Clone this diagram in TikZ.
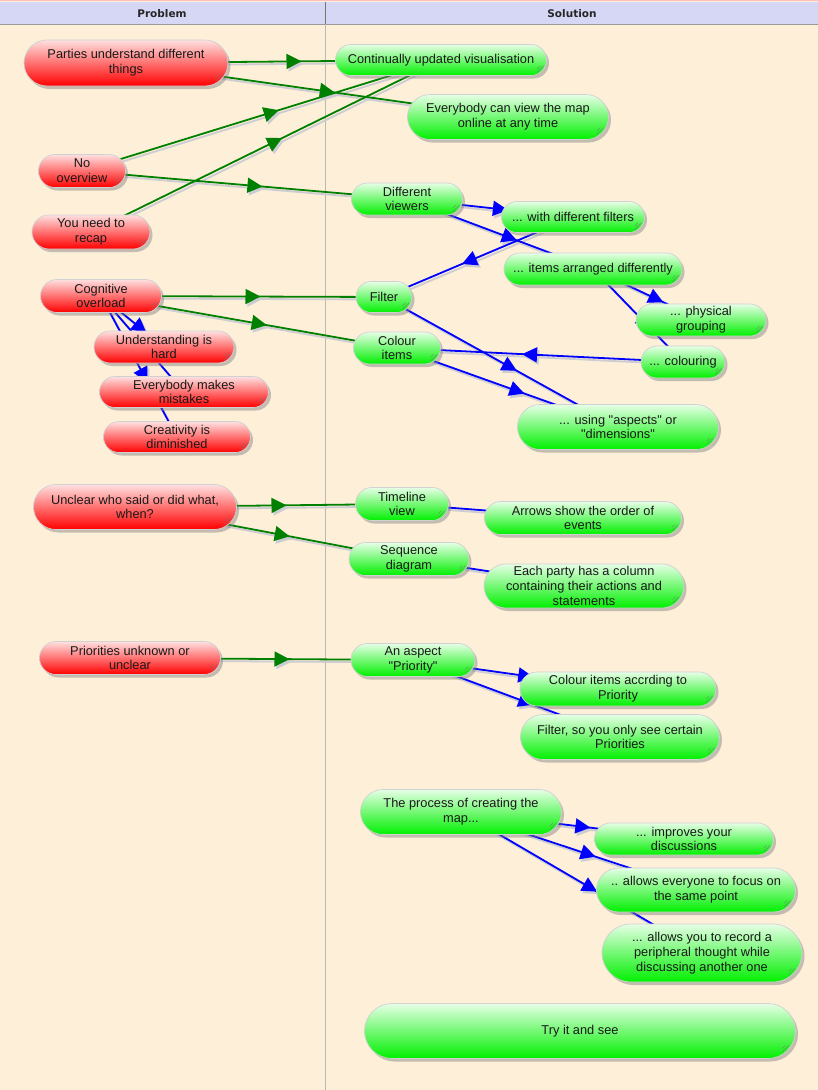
\documentclass[tikz,border=0pt]{standalone}
\usepackage{fontspec}
\setmainfont{Liberation Sans}
\newfontfamily\nodefont{Liberation Sans}
\newfontfamily\hdrfont{DejaVu Sans}
\usetikzlibrary{arrows.meta,decorations.markings,shadows,calc}
\definecolor{bgc}{RGB}{253,239,216}
\definecolor{hdr}{RGB}{214,214,245}
\definecolor{lgreen}{RGB}{0,128,0}
\definecolor{lblue}{RGB}{0,0,255}
\definecolor{eshadow}{RGB}{204,204,210}
\definecolor{rtop}{RGB}{255,224,224}
\definecolor{rmid}{RGB}{255,105,105}
\definecolor{rbot}{RGB}{255,0,0}
\definecolor{gtop}{RGB}{230,255,230}
\definecolor{gmid}{RGB}{105,250,105}
\definecolor{gbot}{RGB}{0,240,0}
\pgfdeclarelayer{bg}\pgfdeclarelayer{edges}\pgfsetlayers{bg,edges,main}
\tikzset{
  gripl/.style={draw=black!55, line width=0.6pt, opacity=0.6},
  box/.style n args={2}{rectangle, rounded corners={#2*0.5pt},
    minimum width=#1pt, minimum height=#2pt, inner sep=0pt, align=center,
    font=\nodefont\fontsize{12.8}{14.7}\selectfont, text=black!90,
    draw=black!18, line width=0.7pt,
    drop shadow={shadow xshift=2.5pt, shadow yshift=-3pt, fill=black!50, opacity=0.45},
    path picture={\pgfmathsetmacro\gr{0.293*#2*0.5}
      \coordinate (gp) at ([xshift=-\gr pt, yshift=\gr pt]path picture bounding box.south east);
      \draw[gripl] ([shift={(-4.95pt,-1.41pt)}]gp) -- ([shift={(1.41pt,4.95pt)}]gp);
      \draw[gripl] ([shift={(-4.95pt,2.13pt)}]gp) -- ([shift={(-2.13pt,4.95pt)}]gp);}},
  rbox/.style 2 args={box={#1}{#2}, top color=rtop, middle color=rmid, bottom color=rbot},
  gbox/.style 2 args={box={#1}{#2}, top color=gtop, middle color=gmid, bottom color=gbot},
  edge/.style={line width=1.8pt, postaction={decorate},
    decoration={markings, mark=at position 0.5 with {\arrow[xshift=18pt]{Triangle[length=15pt,width=15pt]}}}},
  hdrtext/.style={font=\hdrfont\bfseries\fontsize{10.5}{12}\selectfont, text=black!85}
}
\begin{document}
\begin{tikzpicture}[x=1pt,y=-1pt]
\useasboundingbox (0,0) rectangle (818,1090);
\begin{pgfonlayer}{bg}
  \fill[bgc] (0,0) rectangle (818,1090);
  \fill[hdr] (0,2) rectangle (818,24);
  \draw[red!25, line width=1.2pt] (0,0.6) -- (818,0.6);
  \draw[black!40, line width=0.8pt] (0,24.4) -- (818,24.4);
  \draw[black!28, line width=0.8pt] (325,24) -- (325,1090);
  \draw[black!55, line width=0.8pt] (325,2) -- (325,24);
\end{pgfonlayer}
\node[hdrtext] (hp) at (162,13.5) {Problem};
\node[hdrtext] (hs) at (572,13.5) {Solution};
% problem nodes
\node[rbox={204}{46}] (par) at (126,63) {Parties understand different\\things};
\node[rbox={87}{33}] (nov) at (82,171) {No\\overview};
\node[rbox={118}{34}] (rec) at (91,232) {You need to\\recap};
\node[rbox={121}{33}] (cog) at (101,296) {Cognitive\\overload};
\node[rbox={140}{32}] (und) at (164,347) {Understanding is\\hard};
\node[rbox={169}{31}] (mis) at (184,392) {Everybody makes\\mistakes};
\node[rbox={147}{31}] (cre) at (177,437) {Creativity is\\diminished};
\node[rbox={203}{45}] (unc) at (135,507) {Unclear who said or did what,\\when?};
\node[rbox={181}{33}] (pri) at (130,658) {Priorities unknown or\\unclear};
% solution nodes
\node[gbox={211}{31}] (cuv) at (441,60) {Continually updated visualisation};
\node[gbox={201}{45}] (evm) at (508,117) {Everybody can view the map\\online at any time};
\node[gbox={111}{32}] (dvw) at (407,199) {Different\\viewers};
\node[gbox={143}{31}] (wdf) at (573,217) {... with different filters};
\node[gbox={178}{32}] (iad) at (593,269) {... items arranged differently};
\node[gbox={56}{31}] (flt) at (384,297) {Filter};
\node[gbox={130}{32}] (phg) at (701,320) {... physical\\grouping};
\node[gbox={87}{32}] (col) at (397,348) {Colour\\items};
\node[gbox={84}{32}] (clr) at (683,362) {... colouring};
\node[gbox={201}{45}] (asp) at (618,427) {... using "aspects" or\\"dimensions"};
\node[gbox={93}{33}] (tlv) at (402,504) {Timeline\\view};
\node[gbox={197}{33}] (aso) at (583,518) {Arrows show the order of\\events};
\node[gbox={120}{33}] (sqd) at (409,559) {Sequence\\diagram};
\node[gbox={200}{44}] (epc) at (584,586) {Each party has a column\\containing their actions and\\statements};
\node[gbox={124}{33}] (apr) at (413,660) {An aspect\\"Priority"};
\node[gbox={196}{34}] (cip) at (618,689) {Colour items accrding to\\Priority};
\node[gbox={199}{45}] (fso) at (620,737) {Filter, so you only see certain\\Priorities};
\node[gbox={201}{45}] (pcm) at (461,812) {The process of creating the\\map...};
\node[gbox={179}{32}] (imp) at (684,839) {... improves your\\discussions};
\node[gbox={199}{44}] (aef) at (696,890) {.. allows everyone to focus on\\the same point};
\node[gbox={200}{58}] (ayr) at (702,953) {... allows you to record a\\peripheral thought while\\discussing another one};
\node[gbox={431}{55}] (try) at (580,1031) {Try it and see};
% connectors
\def\edgelist{par/cuv/lgreen, par/evm/lgreen, nov/cuv/lgreen, rec/cuv/lgreen,
  nov/dvw/lgreen, cog/flt/lgreen, cog/col/lgreen, unc/tlv/lgreen, unc/sqd/lgreen,
  pri/apr/lgreen, dvw/wdf/lblue, dvw/iad/lblue, wdf/flt/lblue, iad/phg/lblue,
  iad/clr/lblue, clr/col/lblue, flt/asp/lblue, col/asp/lblue, cog/und/lblue,
  cog/mis/lblue, cog/cre/lblue, tlv/aso/lblue, sqd/epc/lblue, apr/cip/lblue,
  apr/fso/lblue, pcm/imp/lblue, pcm/aef/lblue, pcm/ayr/lblue}
\begin{pgfonlayer}{edges}
  \foreach \a/\b/\c in \edgelist {
    \draw[edge, color=eshadow] ([shift={(2pt,-2.5pt)}]\a.center) -- ([shift={(2pt,-2.5pt)}]\b.center);
  }
  \foreach \a/\b/\c in \edgelist {
    \draw[edge, color=\c] (\a.center) -- (\b.center);
  }
\end{pgfonlayer}
\end{tikzpicture}
\end{document}
